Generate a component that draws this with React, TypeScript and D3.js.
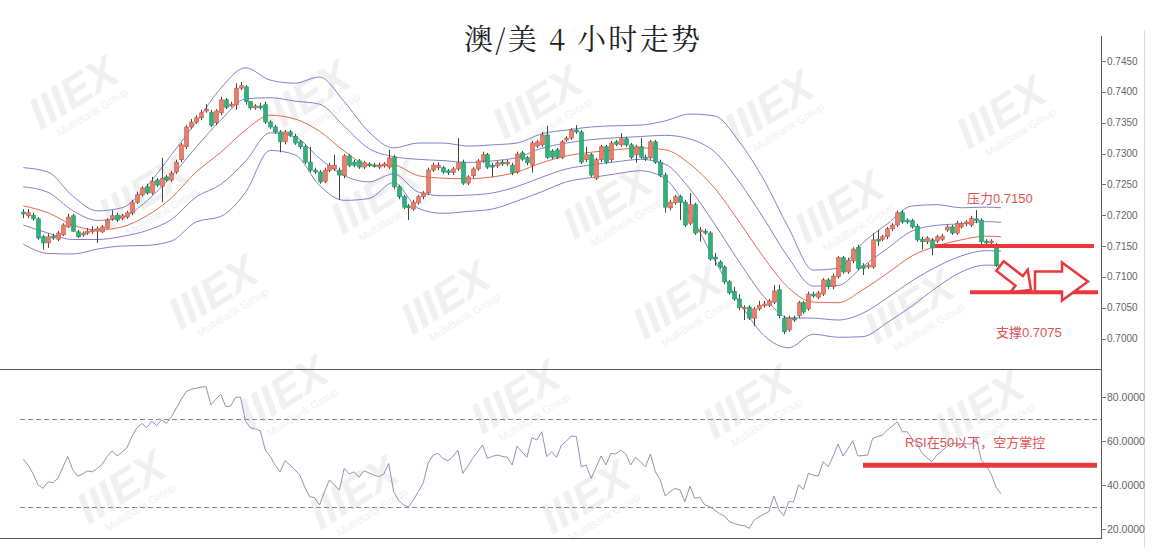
import React from 'react';
import * as d3 from 'd3';

const W = 1163;
const H = 560;

// ---- Candles (AUD/USD 4H) ----
const open = [
  0.7205,0.7199,0.7200,0.7194,0.7165,0.7155,0.7166,0.7161,0.7168,0.7181,
  0.7199,0.7173,0.7168,0.7171,0.7173,0.7174,0.7173,0.7179,0.7194,0.7200,
  0.7195,0.7197,0.7204,0.7221,0.7233,0.7246,0.7236,0.7257,0.7247,0.7262,
  0.7257,0.7270,0.7290,0.7311,0.7343,0.7351,0.7358,0.7369,0.7367,0.7350,
  0.7366,0.7387,0.7377,0.7379,0.7406,0.7408,0.7384,0.7374,0.7377,0.7379,
  0.7351,0.7343,0.7335,0.7319,0.7335,0.7328,0.7319,0.7311,0.7286,0.7273,
  0.7270,0.7255,0.7273,0.7275,0.7273,0.7264,0.7296,0.7286,0.7288,0.7278,
  0.7283,0.7281,0.7278,0.7280,0.7278,0.7294,0.7246,0.7230,0.7215,0.7210,
  0.7220,0.7230,0.7236,0.7273,0.7277,0.7277,0.7272,0.7269,0.7275,0.7286,
  0.7252,0.7264,0.7275,0.7288,0.7298,0.7281,0.7280,0.7286,0.7283,0.7281,
  0.7270,0.7301,0.7293,0.7281,0.7312,0.7314,0.7330,0.7304,0.7306,0.7294,
  0.7322,0.7325,0.7338,0.7335,0.7290,0.7298,0.7260,0.7290,0.7311,0.7290,
  0.7319,0.7314,0.7324,0.7314,0.7298,0.7311,0.7294,0.7293,0.7319,0.7286,
  0.7265,0.7212,0.7220,0.7230,0.7221,0.7187,0.7217,0.7173,0.7174,0.7171,
  0.7132,0.7124,0.7116,0.7092,0.7076,0.7064,0.7048,0.7051,0.7033,0.7048,
  0.7053,0.7054,0.7059,0.7079,0.7033,0.7014,0.7033,0.7037,0.7058,0.7048,
  0.7072,0.7067,0.7072,0.7095,0.7084,0.7100,0.7131,0.7108,0.7126,0.7148,
  0.7118,0.7116,0.7116,0.7161,0.7161,0.7165,0.7178,0.7184,0.7204,0.7192,
  0.7191,0.7182,0.7161,0.7157,0.7160,0.7158,0.7161,0.7176,0.7181,0.7171,
  0.7181,0.7186,0.7184,0.7194,0.7192,0.7158,0.7155,0.7147,0.7119,
];
const close = [
  0.7202,0.7204,0.7194,0.7163,0.7155,0.7165,0.7163,0.7171,0.7184,0.7197,
  0.7174,0.7165,0.7171,0.7174,0.7176,0.7178,0.7181,0.7192,0.7199,0.7192,
  0.7199,0.7204,0.7221,0.7233,0.7244,0.7236,0.7255,0.7249,0.7260,0.7257,
  0.7268,0.7286,0.7314,0.7343,0.7351,0.7358,0.7366,0.7372,0.7346,0.7369,
  0.7387,0.7375,0.7380,0.7406,0.7410,0.7384,0.7374,0.7377,0.7374,0.7351,
  0.7343,0.7335,0.7319,0.7335,0.7330,0.7317,0.7311,0.7286,0.7273,0.7270,
  0.7254,0.7273,0.7281,0.7281,0.7265,0.7296,0.7281,0.7281,0.7278,0.7285,
  0.7281,0.7280,0.7281,0.7283,0.7293,0.7246,0.7230,0.7213,0.7212,0.7221,
  0.7230,0.7236,0.7273,0.7281,0.7281,0.7270,0.7269,0.7275,0.7285,0.7252,
  0.7262,0.7275,0.7288,0.7298,0.7278,0.7278,0.7285,0.7283,0.7286,0.7269,
  0.7299,0.7291,0.7285,0.7317,0.7319,0.7330,0.7294,0.7294,0.7294,0.7319,
  0.7325,0.7338,0.7335,0.7286,0.7298,0.7265,0.7290,0.7311,0.7286,0.7317,
  0.7315,0.7324,0.7314,0.7294,0.7311,0.7294,0.7291,0.7319,0.7286,0.7265,
  0.7213,0.7221,0.7230,0.7221,0.7184,0.7217,0.7171,0.7176,0.7171,0.7129,
  0.7129,0.7116,0.7092,0.7074,0.7064,0.7050,0.7050,0.7033,0.7048,0.7054,
  0.7056,0.7061,0.7077,0.7037,0.7011,0.7033,0.7030,0.7058,0.7043,0.7072,
  0.7069,0.7074,0.7095,0.7084,0.7101,0.7131,0.7108,0.7127,0.7145,0.7114,
  0.7114,0.7119,0.7160,0.7158,0.7165,0.7178,0.7184,0.7204,0.7189,0.7189,
  0.7181,0.7160,0.7157,0.7163,0.7147,0.7165,0.7166,0.7181,0.7171,0.7187,
  0.7186,0.7189,0.7195,0.7191,0.7157,0.7155,0.7158,0.7119,0.7109,
];
const high = [
  0.7210,0.7210,0.7204,0.7197,0.7168,0.7170,0.7170,0.7174,0.7187,0.7202,
  0.7202,0.7176,0.7174,0.7179,0.7182,0.7182,0.7184,0.7195,0.7208,0.7204,
  0.7202,0.7207,0.7225,0.7238,0.7247,0.7251,0.7262,0.7260,0.7293,0.7265,
  0.7272,0.7290,0.7317,0.7346,0.7356,0.7362,0.7371,0.7380,0.7371,0.7372,
  0.7392,0.7390,0.7384,0.7414,0.7416,0.7411,0.7385,0.7380,0.7382,0.7384,
  0.7354,0.7346,0.7338,0.7338,0.7338,0.7332,0.7322,0.7314,0.7311,0.7277,
  0.7273,0.7277,0.7285,0.7298,0.7277,0.7299,0.7299,0.7290,0.7291,0.7288,
  0.7286,0.7285,0.7285,0.7286,0.7306,0.7298,0.7249,0.7233,0.7218,0.7225,
  0.7233,0.7239,0.7277,0.7285,0.7286,0.7280,0.7275,0.7278,0.7325,0.7290,
  0.7265,0.7278,0.7291,0.7303,0.7301,0.7285,0.7288,0.7290,0.7290,0.7285,
  0.7303,0.7304,0.7296,0.7320,0.7322,0.7335,0.7345,0.7307,0.7309,0.7322,
  0.7328,0.7341,0.7346,0.7338,0.7311,0.7301,0.7293,0.7314,0.7314,0.7320,
  0.7322,0.7333,0.7327,0.7317,0.7314,0.7325,0.7298,0.7322,0.7322,0.7290,
  0.7269,0.7225,0.7233,0.7233,0.7225,0.7236,0.7220,0.7181,0.7178,0.7174,
  0.7139,0.7127,0.7119,0.7095,0.7084,0.7072,0.7054,0.7054,0.7051,0.7061,
  0.7061,0.7064,0.7087,0.7087,0.7037,0.7037,0.7037,0.7061,0.7061,0.7076,
  0.7076,0.7077,0.7098,0.7098,0.7105,0.7134,0.7134,0.7131,0.7148,0.7152,
  0.7122,0.7122,0.7171,0.7176,0.7168,0.7181,0.7187,0.7207,0.7208,0.7195,
  0.7194,0.7186,0.7165,0.7166,0.7163,0.7168,0.7170,0.7184,0.7184,0.7191,
  0.7189,0.7192,0.7199,0.7208,0.7195,0.7161,0.7161,0.7155,0.7123,
];
const low = [
  0.7195,0.7195,0.7191,0.7160,0.7144,0.7147,0.7160,0.7158,0.7166,0.7179,
  0.7173,0.7163,0.7165,0.7168,0.7170,0.7155,0.7171,0.7178,0.7191,0.7189,
  0.7192,0.7194,0.7200,0.7218,0.7230,0.7233,0.7233,0.7246,0.7221,0.7254,
  0.7254,0.7267,0.7286,0.7307,0.7340,0.7348,0.7354,0.7366,0.7343,0.7346,
  0.7362,0.7372,0.7375,0.7371,0.7403,0.7379,0.7371,0.7371,0.7371,0.7348,
  0.7340,0.7332,0.7302,0.7315,0.7327,0.7314,0.7307,0.7283,0.7270,0.7267,
  0.7251,0.7252,0.7270,0.7272,0.7225,0.7260,0.7278,0.7278,0.7275,0.7275,
  0.7278,0.7277,0.7275,0.7277,0.7275,0.7242,0.7226,0.7210,0.7192,0.7207,
  0.7217,0.7226,0.7233,0.7270,0.7273,0.7267,0.7265,0.7265,0.7272,0.7249,
  0.7249,0.7260,0.7272,0.7285,0.7275,0.7262,0.7277,0.7280,0.7280,0.7265,
  0.7267,0.7288,0.7281,0.7269,0.7309,0.7311,0.7291,0.7291,0.7291,0.7291,
  0.7319,0.7322,0.7332,0.7283,0.7286,0.7262,0.7257,0.7286,0.7283,0.7286,
  0.7312,0.7311,0.7311,0.7291,0.7285,0.7291,0.7288,0.7290,0.7283,0.7262,
  0.7204,0.7208,0.7217,0.7192,0.7181,0.7184,0.7168,0.7157,0.7168,0.7126,
  0.7118,0.7113,0.7088,0.7071,0.7061,0.7046,0.7030,0.7030,0.7020,0.7045,
  0.7050,0.7051,0.7056,0.7033,0.7007,0.7011,0.7027,0.7033,0.7040,0.7045,
  0.7066,0.7064,0.7069,0.7080,0.7080,0.7097,0.7105,0.7105,0.7122,0.7111,
  0.7103,0.7113,0.7113,0.7150,0.7158,0.7161,0.7174,0.7181,0.7186,0.7186,
  0.7178,0.7157,0.7144,0.7153,0.7135,0.7155,0.7158,0.7173,0.7168,0.7168,
  0.7178,0.7182,0.7181,0.7187,0.7153,0.7152,0.7152,0.7116,0.7106,
];

// ---- Bollinger bands, read at every 5th candle ----
const bandAt = [0,5,10,15,20,25,30,35,40,45,50,55,60,65,70,75,80,85,90,95,
  100,105,110,115,120,125,130,135,140,145,150,155,160,165,170,175,180,185,190,195,198];
const bandMid = [
  0.7215,0.7204,0.7184,0.7176,0.7181,0.7199,0.7228,0.7270,0.7302,0.7338,
  0.7362,0.7356,0.7336,0.7304,0.7281,0.7281,0.7264,0.7260,0.7259,0.7262,
  0.7270,0.7285,0.7296,0.7302,0.7306,0.7309,0.7306,0.7283,0.7244,0.7189,
  0.7131,0.7082,0.7059,0.7058,0.7079,0.7106,0.7134,0.7150,0.7160,0.7166,0.7165,
];
const bandUpper = [
  0.7277,0.7270,0.7231,0.7207,0.7212,0.7247,0.7298,0.7351,0.7406,0.7439,
  0.7419,0.7414,0.7424,0.7384,0.7335,0.7309,0.7317,0.7317,0.7312,0.7314,
  0.7317,0.7332,0.7338,0.7343,0.7345,0.7346,0.7353,0.7364,0.7361,0.7319,
  0.7257,0.7179,0.7111,0.7114,0.7155,0.7186,0.7215,0.7217,0.7212,0.7213,0.7212,
];

// ---- RSI ----
const rsi = [
  51.7,49,45,40,38.5,41.5,41,43,48,53,
  47,44,45,46.4,46,47.5,49.5,53,55.5,53.2,
  55,57,62,66,68,66,69,67,69.5,68,
  71,75,79,82.5,83.5,84,84.5,84.7,76.4,79,
  81.2,75.6,75.9,79.9,79.9,69,66,65.5,64.7,55.9,
  53,49,46,51,49.1,47,44.5,39,34.7,34.2,
  30.9,37,42.3,40,37.7,47.6,45,46,43.5,46.5,
  45.5,44.5,43.8,45,49.8,37,33,31,30.1,33.2,
  37,41,50,53.6,54.4,52,51,52.9,55.9,45.3,
  48.5,52.1,55,58.2,52.1,53,53.6,53,52.6,49.1,
  57.7,55,52.6,61.5,60.5,64.2,52.9,55.1,52.6,58.2,
  60,62.3,62,48.3,49.1,43,48,53.2,49.1,54.4,
  54.1,55.9,54.1,49.1,52.6,50.5,48.3,54.1,46,42.3,
  35,37,38.5,37.7,32.4,39.5,34,34.4,31,30.1,
  28.6,27,25.9,23.3,22.5,21.8,21.5,20.3,24,25.5,
  26.8,27.9,35,28.9,26,32.4,32.4,40,38,45.3,
  44.5,44.1,50.6,48.3,53,58.6,53.2,56.5,60.1,53.2,
  53.4,53.6,61.2,62,62.7,65,66.8,68.8,64.2,64.2,
  61,58.9,54.4,52.5,50.6,53.6,55.5,57.4,58.9,58.9,
  58.9,58.8,58.6,61.2,51.4,49,45,39,36,
];

const priceTicks = [0.7450,0.7400,0.7350,0.7300,0.7250,0.7200,0.7150,0.7100,0.7050,0.7000];
const rsiTicks = [80,60,40,20];
const rsiGuides = [70,30];
const resistance = 0.7150;
const support = 0.7075;
const rsiLevel = 49;

const title = '澳/美 4 小时走势';
const resistanceLabel = '压力0.7150';
const supportLabel = '支撑0.7075';
const rsiNote = 'RSI在50以下，空方掌控';
const wmLogo = 'IIIEX';
const wmName = 'MultiBank Group';

const UP_FILL = '#e8806c';
const UP_STROKE = '#c65644';
const DN_FILL = '#33b37b';
const DN_STROKE = '#1f8f5e';
const BAND = '#7f83c9';
const MID = '#e5694f';
const ANN = '#e8393a';
const ANN_TEXT = '#dd5353';

function arrowPath(x0: number, y0: number, x1: number, y1: number, bodyW: number, headW: number, headL: number) {
  const dx = x1 - x0, dy = y1 - y0;
  const len = Math.hypot(dx, dy);
  const ux = dx / len, uy = dy / len;
  const px = -uy, py = ux;
  const bx = x1 - ux * headL, by = y1 - uy * headL;
  const pts: [number, number][] = [
    [x0 + px * bodyW, y0 + py * bodyW],
    [bx + px * bodyW, by + py * bodyW],
    [bx + px * headW, by + py * headW],
    [x1, y1],
    [bx - px * headW, by - py * headW],
    [bx - px * bodyW, by - py * bodyW],
    [x0 - px * bodyW, y0 - py * bodyW],
  ];
  return 'M' + pts.map(p => p[0].toFixed(1) + ',' + p[1].toFixed(1)).join('L') + 'Z';
}

// watermark lattice (decorative background), kept fully inside the picture
function watermarkSpots() {
  const spots: [number, number][] = [];
  for (let m = -8; m <= 8; m++) {
    for (let k = -8; k <= 8; k++) {
      const cx = 615 + m * 162 + k * 70;
      const cy = 215 - m * 95 + k * 100;
      if (cx > 62 && cx < 1040 && cy > 48 && cy < 515) spots.push([cx, cy]);
    }
  }
  return spots;
}

export default function App() {
  const n = open.length;
  const x = d3.scaleLinear().domain([0, n - 1]).range([23.3, 1001]);
  const y = d3.scaleLinear().domain([0.7000, 0.7450]).range([338.5, 61]);
  const yr = d3.scaleLinear().domain([20, 80]).range([529, 397]);

  const axisX = 1101;

  const bandLine = (vals: number[]) =>
    d3.line<number>()
      .x((_, k) => x(bandAt[k]))
      .y(v => y(v))
      .curve(d3.curveMonotoneX)(vals) || '';

  const upperOuter = bandUpper;
  const lowerOuter = bandMid.map((m, k) => 2 * m - bandUpper[k]);
  const upperInner = bandMid.map((m, k) => (m + bandUpper[k]) / 2);
  const lowerInner = bandMid.map((m, k) => m - (bandUpper[k] - m) / 2);

  const rsiPath = d3.line<number>()
    .x((_, k) => x(k))
    .y(v => yr(v))(rsi) || '';

  const bw = 3.6;
  const latin = "'Liberation Sans', Arial, sans-serif";
  const cjk = "'Liberation Sans', 'Noto Sans CJK SC', sans-serif";

  return (
    <div style={{ position: 'absolute', left: 0, top: 0, width: W, height: H, background: '#fff' }}>
      <svg width={W} height={H} viewBox={`0 0 ${W} ${H}`} style={{ display: 'block' }}>
        <rect x={0} y={0} width={W} height={H} fill="#fff" />

        {/* faint watermark */}
        <g aria-hidden="true">
          {watermarkSpots().map(([cx, cy], i) => (
            <g key={i} transform={`translate(${cx},${cy}) rotate(-32)`}>
              <text x={0} y={0} textAnchor="middle" fontFamily={latin} fontWeight="bold"
                fontSize={44} fill="#f0f0f0" fontStyle="italic">{wmLogo}</text>
              <text x={6} y={16} textAnchor="middle" fontFamily={latin}
                fontSize={11} fill="#f0f0f0">{wmName}</text>
            </g>
          ))}
        </g>

        {/* title */}
        <text x={582} y={37} textAnchor="middle" dominantBaseline="central"
          fontFamily="'Noto Serif CJK SC', 'Liberation Serif', 'Noto Sans CJK SC', serif" fontSize={29} fill="#222"
          textLength={236} lengthAdjust="spacing">{title}</text>

        {/* Bollinger bands */}
        <path d={bandLine(upperOuter)} fill="none" stroke={BAND} strokeWidth={1} />
        <path d={bandLine(upperInner)} fill="none" stroke={BAND} strokeWidth={1} />
        <path d={bandLine(bandMid)} fill="none" stroke={MID} strokeWidth={1} />
        <path d={bandLine(lowerInner)} fill="none" stroke={BAND} strokeWidth={1} />
        <path d={bandLine(lowerOuter)} fill="none" stroke={BAND} strokeWidth={1} />

        {/* candles */}
        {open.map((o, i) => {
          const c = close[i];
          const up = c >= o;
          const cx = Math.round(x(i)) + 0.5;
          const top = y(Math.max(o, c));
          const bot = y(Math.min(o, c));
          return (
            <g key={i}>
              <line x1={cx} x2={cx} y1={y(high[i])} y2={y(low[i])} stroke="#444" strokeWidth={1} />
              <rect x={cx - bw / 2} y={top} width={bw} height={Math.max(1.2, bot - top)}
                fill={up ? UP_FILL : DN_FILL} stroke={up ? UP_STROKE : DN_STROKE} strokeWidth={0.7} />
            </g>
          );
        })}

        {/* price axis */}
        <line x1={axisX + 0.5} x2={axisX + 0.5} y1={36} y2={539} stroke="#555" strokeWidth={1} />
        <line x1={1144.5} x2={1144.5} y1={30} y2={548} stroke="#ddd" strokeWidth={1} />
        {priceTicks.map(t => (
          <g key={t}>
            <line x1={axisX} x2={axisX + 5} y1={Math.round(y(t)) + 0.5} y2={Math.round(y(t)) + 0.5} stroke="#777" />
            <text x={axisX + 6} y={y(t)} dominantBaseline="central" fontFamily={latin} fontSize={10} fill="#666">
              {t.toFixed(4)}
            </text>
          </g>
        ))}

        {/* panel separators */}
        <line x1={0} x2={axisX} y1={369.5} y2={369.5} stroke="#555" strokeWidth={1} />
        <line x1={0} x2={axisX} y1={538.5} y2={538.5} stroke="#555" strokeWidth={1} />

        {/* RSI panel */}
        {rsiGuides.map(g => (
          <line key={g} x1={20} x2={axisX} y1={Math.round(yr(g)) + 0.5} y2={Math.round(yr(g)) + 0.5}
            stroke="#8a8a8a" strokeWidth={1} strokeDasharray="5,3" />
        ))}
        {rsiTicks.map(t => (
          <g key={t}>
            <line x1={axisX} x2={axisX + 5} y1={Math.round(yr(t)) + 0.5} y2={Math.round(yr(t)) + 0.5} stroke="#777" />
            <text x={axisX + 6} y={yr(t)} dominantBaseline="central" fontFamily={latin} fontSize={10.5} fill="#666">
              {t.toFixed(4)}
            </text>
          </g>
        ))}
        <path d={rsiPath} fill="none" stroke="#a08bb8" strokeWidth={1} />

        {/* annotations */}
        <line x1={935} x2={1094} y1={y(resistance)} y2={y(resistance)} stroke={ANN} strokeWidth={4} />
        <line x1={970} x2={1098} y1={y(support)} y2={y(support)} stroke={ANN} strokeWidth={4} />
        <path d={arrowPath(1000, 266, 1031, 290, 6, 14, 15)} fill="#fff" stroke={ANN} strokeWidth={2.5} strokeLinejoin="miter" />
        <path d={arrowPath(1035, 281.5, 1088, 281.5, 10, 19, 26)} fill="#fff" stroke={ANN} strokeWidth={2.5} strokeLinejoin="miter" />
        <text x={967} y={198} dominantBaseline="central" fontFamily={cjk} fontSize={13} fill={ANN_TEXT}>{resistanceLabel}</text>
        <text x={996} y={332} dominantBaseline="central" fontFamily={cjk} fontSize={13} fill={ANN_TEXT}>{supportLabel}</text>

        <line x1={863} x2={1097} y1={yr(rsiLevel)} y2={yr(rsiLevel)} stroke={ANN} strokeWidth={5} />
        <text x={905} y={442} dominantBaseline="central" fontFamily={cjk} fontSize={13} fill={ANN_TEXT}>{rsiNote}</text>
      </svg>
    </div>
  );
}
